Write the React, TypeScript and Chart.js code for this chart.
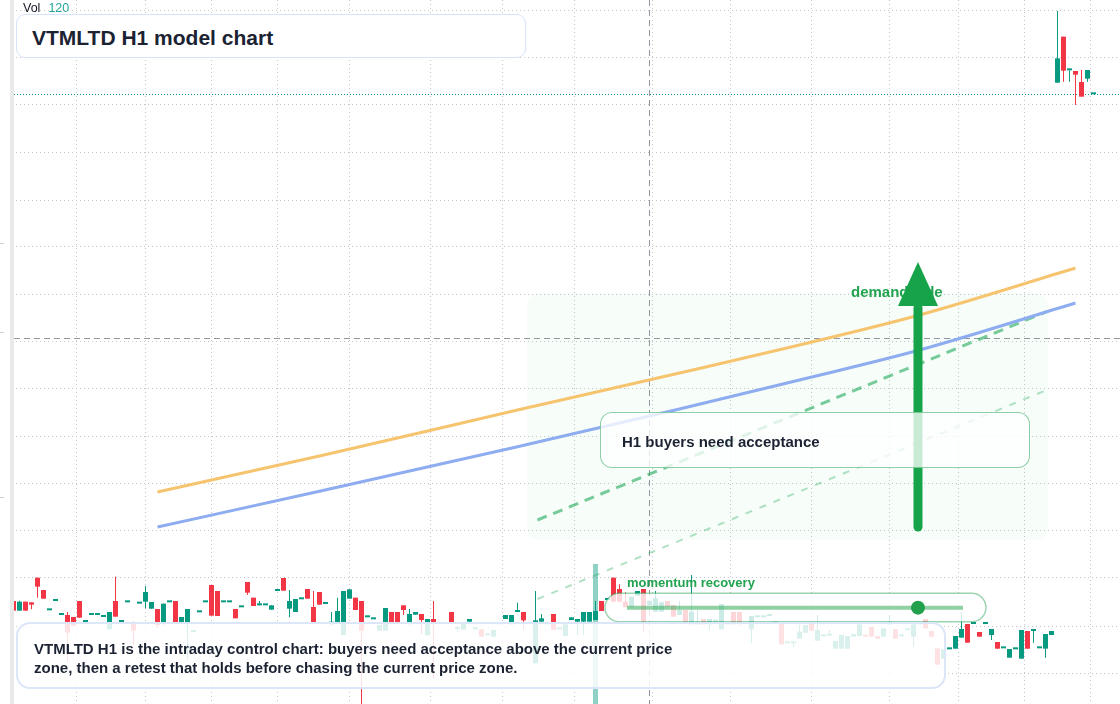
import React, { useEffect, useRef } from "react";
import { Chart, registerables } from "chart.js";

Chart.register(...registerables);

// ---- data (H1 candles, first bar index = -1) ----
const firstIndex = -1;
const opens = [
  23.09, 22.80, 23.07, 23.05, 23.79, 23.42, 22.81, 23.09, 22.67, 22.67, 22.61, 23.09, 22.46, 22.67, 22.67, 22.61, 22.24, 23.09, 22.46, 23.05,
  22.45, 23.01, 23.07, 22.86, 22.85, 22.39, 23.05, 23.09, 22.42, 22.42, 22.16, 22.75, 23.05, 23.57, 23.39, 23.05, 23.05, 22.85, 22.90, 23.66,
  23.19, 22.96, 22.96, 22.83, 23.39, 23.78, 22.86, 22.76, 23.14, 23.45, 22.91, 23.36, 23.00, 22.39, 22.42, 22.07, 23.16, 23.19, 23.09, 22.60,
  22.54, 22.20, 22.20, 22.76, 22.76, 22.96, 22.39, 22.68, 22.70, 22.06, 22.55, 22.40, 22.40, 22.76, 22.25, 22.23, 22.47, 22.24, 22.24, 22.06,
  22.02, 22.39, 22.55, 22.39, 22.76, 22.76, 22.40, 21.22, 22.47, 22.39, 22.70, 22.24, 22.04, 22.52, 22.47, 22.47, 22.47, 22.52, 23.09, 23.12,
  23.79, 23.45, 23.07, 22.90, 23.25, 23.45, 22.97, 22.77, 22.77, 23.09, 22.97, 22.67, 22.82, 22.39, 22.39, 22.55, 22.39, 22.47, 22.24, 22.39,
  22.76, 22.76, 22.40, 22.24, 22.60, 22.60, 22.64, 22.42, 22.40, 21.82, 21.82, 21.96, 22.14, 22.40, 21.90, 22.03, 22.05, 21.66, 21.66, 21.66,
  22.02, 22.04, 22.07, 22.31, 22.04, 22.02, 22.39, 22.24, 22.03, 22.21, 22.02, 22.39, 22.55, 22.19, 21.67, 21.36, 21.64, 21.66, 21.99, 22.40,
  22.40, 22.16, 22.40, 22.07, 21.86, 21.67, 21.39, 21.64, 21.36, 22.19, 22.19, 21.67, 21.66, 22.07, 38.64, 40.02, 39.01, 38.99, 38.66, 38.76,
  38.29,
];
const highs = [
  23.09, 23.10, 23.07, 23.05, 23.79, 23.42, 22.81, 23.09, 22.67, 22.76, 22.61, 23.09, 22.46, 22.67, 22.67, 22.61, 22.76, 23.82, 22.46, 23.05,
  22.47, 23.01, 23.54, 23.06, 22.85, 23.01, 23.05, 23.09, 22.61, 22.85, 22.16, 22.75, 23.05, 23.57, 23.39, 23.05, 23.05, 22.85, 22.90, 23.66,
  23.19, 23.09, 22.96, 22.96, 23.39, 23.78, 23.42, 23.15, 23.14, 23.45, 23.39, 23.36, 23.00, 22.76, 23.19, 23.39, 23.44, 23.19, 23.09, 22.60,
  22.54, 22.37, 22.88, 22.76, 22.76, 22.96, 22.85, 22.76, 22.70, 22.55, 23.09, 22.40, 22.40, 22.76, 22.32, 22.40, 22.55, 22.24, 22.24, 22.06,
  22.22, 22.39, 22.67, 22.67, 23.04, 22.76, 22.40, 23.39, 22.70, 22.39, 22.70, 22.24, 22.39, 22.60, 22.55, 22.76, 22.76, 23.09, 23.09, 23.12,
  23.79, 23.59, 23.35, 23.22, 23.39, 23.45, 23.09, 23.39, 23.05, 23.09, 22.97, 23.09, 22.82, 23.87, 22.82, 22.55, 22.55, 22.47, 23.00, 22.39,
  22.76, 22.76, 22.40, 22.64, 22.64, 22.60, 22.64, 22.42, 22.40, 21.82, 21.82, 22.37, 22.37, 22.40, 22.67, 22.03, 22.22, 21.89, 22.07, 22.04,
  22.10, 22.39, 22.07, 22.31, 22.04, 22.27, 22.67, 22.24, 22.03, 22.21, 22.39, 22.39, 22.55, 22.19, 21.67, 21.64, 21.64, 22.04, 22.76, 22.40,
  22.40, 22.16, 22.40, 22.25, 21.86, 21.67, 21.65, 21.64, 22.22, 22.19, 22.19, 21.67, 22.10, 22.19, 40.79, 40.02, 39.01, 38.99, 39.02, 39.02,
  38.29,
];
const lows = [
  22.80, 22.80, 22.80, 22.84, 23.19, 23.16, 22.81, 23.09, 22.67, 21.27, 22.35, 22.59, 22.46, 22.67, 22.67, 22.61, 22.24, 22.62, 22.46, 23.05,
  21.77, 23.01, 22.87, 22.86, 22.27, 22.39, 23.05, 22.42, 22.42, 21.34, 22.16, 22.75, 23.05, 22.65, 22.64, 23.05, 23.05, 22.57, 22.90, 23.27,
  22.94, 22.96, 22.96, 22.83, 23.39, 23.40, 22.60, 22.76, 23.14, 23.16, 22.42, 22.98, 23.00, 22.37, 22.42, 22.07, 23.16, 22.82, 19.62, 22.60,
  22.54, 22.20, 22.20, 22.42, 22.42, 22.67, 22.39, 22.68, 22.10, 22.06, 20.75, 22.40, 22.40, 22.42, 22.17, 22.23, 22.47, 22.24, 22.02, 22.06,
  22.02, 22.39, 22.55, 22.39, 22.76, 22.22, 22.40, 21.22, 22.47, 22.39, 22.22, 22.24, 22.04, 22.52, 22.07, 22.07, 22.47, 22.52, 22.79, 23.12,
  23.07, 23.07, 22.90, 22.90, 23.25, 22.17, 22.97, 22.77, 22.77, 22.92, 22.62, 22.67, 22.47, 22.39, 22.39, 22.39, 22.22, 22.47, 22.24, 22.39,
  22.39, 22.39, 22.40, 21.82, 22.60, 22.60, 22.64, 22.42, 21.79, 21.82, 21.70, 21.96, 22.14, 22.20, 21.90, 22.03, 22.05, 21.66, 21.66, 21.66,
  22.02, 22.04, 22.02, 22.02, 21.96, 22.02, 22.39, 21.96, 22.03, 22.21, 21.72, 22.39, 22.27, 22.02, 21.18, 21.36, 21.64, 21.66, 21.99, 21.84,
  22.40, 22.02, 22.40, 21.92, 21.66, 21.67, 21.39, 21.64, 21.36, 21.66, 21.84, 21.67, 21.39, 22.07, 38.64, 38.67, 38.67, 37.97, 38.22, 38.67,
  38.29,
];
const closes = [
  22.80, 23.07, 22.80, 22.98, 23.52, 23.16, 22.81, 23.09, 22.67, 22.14, 22.35, 22.59, 22.46, 22.67, 22.67, 22.61, 22.76, 22.62, 22.46, 23.05,
  22.20, 23.01, 23.36, 23.06, 22.37, 23.01, 23.05, 22.42, 22.61, 22.85, 22.16, 22.75, 23.05, 22.65, 22.64, 23.05, 23.05, 22.57, 22.90, 23.34,
  22.94, 22.96, 22.96, 22.96, 23.39, 23.40, 23.09, 23.15, 23.14, 23.16, 22.42, 22.98, 23.00, 22.47, 22.79, 23.39, 23.44, 22.82, 22.20, 22.60,
  22.54, 22.37, 22.88, 22.42, 22.42, 22.82, 22.70, 22.76, 22.52, 22.55, 22.42, 22.40, 22.40, 22.42, 22.25, 22.40, 22.55, 22.24, 22.02, 22.06,
  22.22, 22.39, 22.67, 22.67, 22.76, 22.51, 22.40, 22.51, 22.57, 22.39, 22.22, 22.24, 22.39, 22.60, 22.55, 22.76, 22.76, 22.79, 22.79, 23.12,
  23.07, 23.07, 22.90, 23.22, 23.39, 22.47, 23.09, 23.17, 23.05, 22.92, 22.62, 22.82, 22.47, 22.77, 22.47, 22.39, 22.55, 22.47, 23.00, 22.39,
  22.39, 22.39, 22.40, 22.64, 22.64, 22.60, 22.64, 22.42, 21.79, 21.82, 21.82, 22.17, 22.37, 22.20, 22.22, 22.03, 22.05, 21.89, 22.07, 22.04,
  22.10, 22.39, 22.02, 22.02, 21.96, 22.27, 22.47, 21.96, 22.03, 22.21, 22.39, 22.39, 22.27, 22.02, 21.18, 21.64, 21.64, 22.04, 22.25, 21.84,
  22.40, 22.02, 22.40, 22.25, 21.66, 21.67, 21.65, 21.64, 22.22, 21.66, 22.19, 21.67, 22.10, 22.19, 39.37, 39.00, 39.01, 38.88, 38.22, 39.02,
  38.29,
];
const volumeAt = [96];
const volumeValues = [120];

// grid ticks (time index / price)
const timeGrid = [3, 16, 26, 38, 48, 62, 75, 86, 99, 112, 125, 139, 151, 162, 173];
const priceGrid = [40.79, 39.38, 37.97, 36.53, 35.12, 33.71, 32.27, 30.86, 29.45, 28.01, 26.6, 25.19, 23.78, 22.34, 20.93];

// projection paths
const projX = [23, 50, 83, 110, 130, 150, 176];
const upperPath = [26.36, 27.44, 28.82, 29.93, 30.77, 31.67, 33.08];
const lowerPath = [25.31, 26.38, 27.72, 28.85, 29.72, 30.62, 32.03];
const acceptX = [86.33, 171.22];
const acceptY = [25.52, 31.77];
const retestX = [86.33, 171.22];
const retestY = [23.15, 29.42];

// annotation anchors (data coordinates)
const zoneX = [84.58, 171.42];
const zoneY = [24.92, 32.33];
const crossX = 105;
const crossY = 30.98;
const arrowX = 149.75;
const arrowFrom = 25.31;
const arrowTo = 33.26;
const pillX = [97.58, 161.08];
const pillY = [23.32, 22.47];
const momentumX = [101.25, 157.25];
const momentumY = 22.89;
const momentumDot = 149.75;

const UP = "#089981";
const DOWN = "#f23645";
const GREEN = "#16a34a";
const FONT = '"Liberation Sans", Arial, Helvetica, sans-serif';

const overlayPlugin = {
  id: "overlayPlugin",
  beforeDatasetsDraw(chart: any) {
    const { ctx, scales } = chart;
    const X = (v: number) => scales.x.getPixelForValue(v);
    const Y = (v: number) => scales.y.getPixelForValue(v);
    ctx.save();
    // demand zone
    ctx.fillStyle = "rgba(34,197,94,0.035)";
    ctx.beginPath();
    ctx.roundRect(X(zoneX[0]), Y(zoneY[1]), X(zoneX[1]) - X(zoneX[0]), Y(zoneY[0]) - Y(zoneY[1]), 12);
    ctx.fill();
    // crosshair
    ctx.strokeStyle = "rgba(120,123,134,0.8)";
    ctx.lineWidth = 1;
    ctx.setLineDash([6, 4]);
    const cx = Math.round(X(crossX)) + 0.5;
    const cy = Math.round(Y(crossY)) + 0.5;
    ctx.beginPath();
    ctx.moveTo(cx, 0);
    ctx.lineTo(cx, chart.height);
    ctx.moveTo(14, cy);
    ctx.lineTo(chart.width, cy);
    ctx.stroke();
    // last price line
    const ly = Math.round(Y(closes[closes.length - 1])) + 0.5;
    ctx.strokeStyle = UP;
    ctx.setLineDash([1, 2]);
    ctx.beginPath();
    ctx.moveTo(14, ly);
    ctx.lineTo(chart.width, ly);
    ctx.stroke();
    ctx.restore();
  },
  afterDatasetsDraw(chart: any) {
    const { ctx, scales } = chart;
    const X = (v: number) => scales.x.getPixelForValue(v);
    const Y = (v: number) => scales.y.getPixelForValue(v);
    ctx.save();
    // momentum pill
    const px0 = X(pillX[0]);
    const px1 = X(pillX[1]);
    const py0 = Y(pillY[0]);
    const py1 = Y(pillY[1]);
    ctx.beginPath();
    ctx.roundRect(px0, py0, px1 - px0, py1 - py0, (py1 - py0) / 2);
    ctx.fillStyle = "rgba(255,255,255,0.8)";
    ctx.fill();
    ctx.strokeStyle = "rgba(34,160,80,0.45)";
    ctx.lineWidth = 1.5;
    ctx.stroke();
    // momentum line + dot
    const my = Y(momentumY);
    ctx.strokeStyle = "rgba(34,163,74,0.5)";
    ctx.lineWidth = 4;
    ctx.beginPath();
    ctx.moveTo(X(momentumX[0]), my);
    ctx.lineTo(X(momentumX[1]), my);
    ctx.stroke();
    ctx.fillStyle = "#22a04b";
    ctx.beginPath();
    ctx.arc(X(momentumDot), my, 7, 0, Math.PI * 2);
    ctx.fill();
    // labels
    ctx.fillStyle = "#22a34f";
    ctx.textBaseline = "middle";
    ctx.font = `bold 13px ${FONT}`;
    ctx.fillText("momentum recovery", X(momentumX[0]), py0 - 10);
    ctx.font = `bold 15px ${FONT}`;
    ctx.fillText("demand side", X(zoneX[0]) + 324, Y(zoneY[1]));
    // arrow
    const ax = X(arrowX);
    const ay0 = Y(arrowFrom);
    const ay1 = Y(arrowTo);
    const headBase = ay1 + 44;
    ctx.strokeStyle = GREEN;
    ctx.fillStyle = GREEN;
    ctx.lineWidth = 9;
    ctx.lineCap = "round";
    ctx.beginPath();
    ctx.moveTo(ax, ay0);
    ctx.lineTo(ax, headBase + 2);
    ctx.stroke();
    ctx.beginPath();
    ctx.moveTo(ax, ay1);
    ctx.lineTo(ax + 20, headBase);
    ctx.lineTo(ax - 20, headBase);
    ctx.closePath();
    ctx.fill();
    // left edge strip
    ctx.fillStyle = "#ffffff";
    ctx.fillRect(0, 0, 10, chart.height);
    ctx.fillStyle = "#e9e9e9";
    ctx.fillRect(10, 0, 4, chart.height);
    ctx.fillStyle = "#cfcfcf";
    [243, 332, 497].forEach((t) => ctx.fillRect(0, t, 4, 1));
    ctx.restore();
  },
};

export default function App() {
  const ref = useRef<HTMLCanvasElement | null>(null);

  useEffect(() => {
    if (!ref.current) return;
    const idx = opens.map((_, i) => i + firstIndex);
    const colors = opens.map((o, i) => (closes[i] >= o ? UP : DOWN));
    const gridCommon = {
      color: "#c6c6c6",
      lineWidth: 1,
      drawTicks: false,
    };
    const chart = new Chart(ref.current, {
      type: "bar",
      data: {
        datasets: [
          {
            type: "bar",
            label: "Volume",
            data: volumeAt.map((k, i) => ({ x: k, y: volumeValues[i] })),
            yAxisID: "vol",
            backgroundColor: "rgba(8,153,129,0.45)",
            barThickness: 5,
            grouped: false,
            inflateAmount: 0,
            order: 6,
          } as any,
          {
            type: "bar",
            label: "Wicks",
            data: idx.map((k, i) => ({ x: k, y: [lows[i], highs[i]] })),
            backgroundColor: colors,
            barThickness: 1,
            grouped: false,
            inflateAmount: 0,
            order: 5,
          } as any,
          {
            type: "bar",
            label: "Bodies",
            data: idx.map((k, i) => ({ x: k, y: [opens[i], closes[i]] })),
            backgroundColor: colors,
            barThickness: 5,
            minBarLength: 2,
            grouped: false,
            inflateAmount: 0,
            order: 4,
          } as any,
          {
            type: "line",
            label: "Upper path",
            data: projX.map((k, i) => ({ x: k, y: upperPath[i] })),
            borderColor: "#f6c46e",
            borderWidth: 3,
            pointRadius: 0,
            cubicInterpolationMode: "monotone",
            order: 1,
          } as any,
          {
            type: "line",
            label: "Lower path",
            data: projX.map((k, i) => ({ x: k, y: lowerPath[i] })),
            borderColor: "#8eacf0",
            borderWidth: 3,
            pointRadius: 0,
            cubicInterpolationMode: "monotone",
            order: 1,
          } as any,
          {
            type: "line",
            label: "Acceptance",
            data: acceptX.map((k, i) => ({ x: k, y: acceptY[i] })),
            borderColor: "rgba(34,170,90,0.6)",
            borderWidth: 3,
            borderDash: [10, 7],
            pointRadius: 0,
            order: 2,
          } as any,
          {
            type: "line",
            label: "Retest",
            data: retestX.map((k, i) => ({ x: k, y: retestY[i] })),
            borderColor: "rgba(34,170,90,0.35)",
            borderWidth: 2,
            borderDash: [7, 8],
            pointRadius: 0,
            order: 2,
          } as any,
        ],
      },
      options: {
        animation: false,
        responsive: false,
        devicePixelRatio: 1,
        events: [],
        layout: { padding: 0 },
        plugins: { legend: { display: false }, tooltip: { enabled: false } },
        scales: {
          x: {
            type: "linear",
            min: -3.25,
            max: 183.42,
            offset: false,
            grid: gridCommon,
            border: { display: false, dash: [1, 3] },
            ticks: { display: false },
            afterBuildTicks: (axis: any) => {
              axis.ticks = timeGrid.map((v) => ({ value: v }));
            },
          },
          y: {
            type: "linear",
            position: "left",
            min: 20,
            max: 41.12,
            grid: gridCommon,
            border: { display: false, dash: [1, 3] },
            ticks: { display: false },
            afterBuildTicks: (axis: any) => {
              axis.ticks = priceGrid.map((v) => ({ value: v }));
            },
          },
          vol: {
            type: "linear",
            min: 0,
            max: 603.4,
            display: false,
          },
        },
      } as any,
      plugins: [overlayPlugin],
    });
    return () => chart.destroy();
  }, []);

  const textColor = "#1b2232";

  return (
    <div
      style={{
        position: "fixed",
        left: 0,
        top: 0,
        width: 1120,
        height: 704,
        overflow: "hidden",
        background: "#ffffff",
        fontFamily: FONT,
      }}
    >
      <canvas
        ref={ref}
        width={1120}
        height={704}
        style={{ position: "absolute", left: 0, top: 0, width: 1120, height: 704 }}
      />
      <div
        style={{
          position: "absolute",
          left: 23,
          top: 1,
          fontSize: 12.5,
          lineHeight: "14px",
          color: "#131722",
          whiteSpace: "nowrap",
        }}
      >
        Vol<span style={{ color: "#26a69a", marginLeft: 8 }}>120</span>
      </div>
      <div
        style={{
          position: "absolute",
          left: 16,
          top: 14,
          width: 510,
          height: 44,
          boxSizing: "border-box",
          border: "1.5px solid #d6e3f8",
          borderRadius: 9,
          background: "#ffffff",
        }}
      />
      <div
        style={{
          position: "absolute",
          left: 32,
          top: 26,
          fontSize: 21,
          lineHeight: "24px",
          fontWeight: 700,
          color: textColor,
          whiteSpace: "nowrap",
        }}
      >
        VTMLTD H1 model chart
      </div>
      <div
        style={{
          position: "absolute",
          left: 600,
          top: 412,
          width: 430,
          height: 56,
          boxSizing: "border-box",
          border: "1.5px solid rgba(34,160,80,0.5)",
          borderRadius: 12,
          background: "rgba(255,255,255,0.77)",
        }}
      />
      <div
        style={{
          position: "absolute",
          left: 622,
          top: 433,
          fontSize: 15,
          lineHeight: "18px",
          fontWeight: 700,
          color: textColor,
          whiteSpace: "nowrap",
        }}
      >
        H1 buyers need acceptance
      </div>
      <div
        style={{
          position: "absolute",
          left: 16,
          top: 622,
          width: 930,
          height: 67,
          boxSizing: "border-box",
          border: "2px solid #dbe6f9",
          borderRadius: 14,
          background: "rgba(255,255,255,0.85)",
        }}
      />
      <div
        style={{
          position: "absolute",
          left: 34,
          top: 638.5,
          fontSize: 15,
          lineHeight: "19.5px",
          fontWeight: 700,
          color: textColor,
          whiteSpace: "nowrap",
        }}
      >
        VTMLTD H1 is the intraday control chart: buyers need acceptance above the current price
        <br />
        zone, then a retest that holds before chasing the current price zone.
      </div>
    </div>
  );
}
